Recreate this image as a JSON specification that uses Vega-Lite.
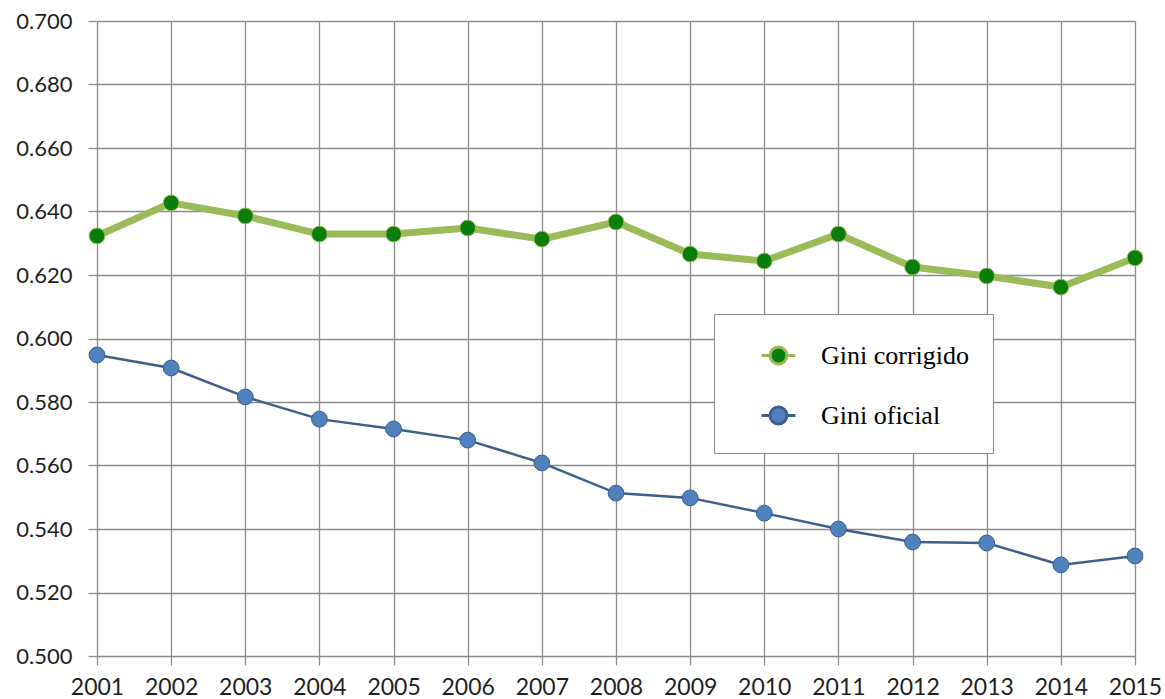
{
  "$schema": "https://vega.github.io/schema/vega-lite/v6.json",
  "width": 1038,
  "height": 635,
  "autosize": {"type": "none"},
  "padding": {"left": 97, "top": 21, "right": 30, "bottom": 43},
  "background": "white",
  "config": {
    "view": {"stroke": null},
    "axis": {
      "gridColor": "#8c8c8c", "gridOpacity": 1, "gridWidth": 1.3,
      "tickColor": "#8c8c8c", "tickWidth": 1.3, "tickSize": 9,
      "domain": false,
      "labelFont": "Lato", "labelColor": "#1f1f1f",
      "title": null
    },
    "legend": {
      "labelFont": "Liberation Serif", "labelFontSize": 26, "labelColor": "#000000"
    }
  },
  "data": {
    "values": [
      {"year": 2001, "series": "Gini corrigido", "v": 0.6323},
      {"year": 2002, "series": "Gini corrigido", "v": 0.6427},
      {"year": 2003, "series": "Gini corrigido", "v": 0.6386},
      {"year": 2004, "series": "Gini corrigido", "v": 0.6329},
      {"year": 2005, "series": "Gini corrigido", "v": 0.6329},
      {"year": 2006, "series": "Gini corrigido", "v": 0.6348},
      {"year": 2007, "series": "Gini corrigido", "v": 0.6313},
      {"year": 2008, "series": "Gini corrigido", "v": 0.6367},
      {"year": 2009, "series": "Gini corrigido", "v": 0.6266},
      {"year": 2010, "series": "Gini corrigido", "v": 0.6244},
      {"year": 2011, "series": "Gini corrigido", "v": 0.6329},
      {"year": 2012, "series": "Gini corrigido", "v": 0.6225},
      {"year": 2013, "series": "Gini corrigido", "v": 0.6197},
      {"year": 2014, "series": "Gini corrigido", "v": 0.6162},
      {"year": 2015, "series": "Gini corrigido", "v": 0.6254},
      {"year": 2001, "series": "Gini oficial", "v": 0.5948},
      {"year": 2002, "series": "Gini oficial", "v": 0.5907},
      {"year": 2003, "series": "Gini oficial", "v": 0.5816},
      {"year": 2004, "series": "Gini oficial", "v": 0.5746},
      {"year": 2005, "series": "Gini oficial", "v": 0.5715},
      {"year": 2006, "series": "Gini oficial", "v": 0.5680},
      {"year": 2007, "series": "Gini oficial", "v": 0.5608},
      {"year": 2008, "series": "Gini oficial", "v": 0.5513},
      {"year": 2009, "series": "Gini oficial", "v": 0.5498},
      {"year": 2010, "series": "Gini oficial", "v": 0.5450},
      {"year": 2011, "series": "Gini oficial", "v": 0.5400},
      {"year": 2012, "series": "Gini oficial", "v": 0.5359},
      {"year": 2013, "series": "Gini oficial", "v": 0.5356},
      {"year": 2014, "series": "Gini oficial", "v": 0.5287},
      {"year": 2015, "series": "Gini oficial", "v": 0.5315}
    ]
  },
  "encoding": {
    "x": {
      "field": "year", "type": "quantitative",
      "scale": {"domain": [2001, 2015], "nice": false, "zero": false},
      "axis": {
        "values": [2001,2002,2003,2004,2005,2006,2007,2008,2009,2010,2011,2012,2013,2014,2015],
        "format": "d", "labelFontSize": 23, "labelPadding": 11, "labelFlush": false, "labelOverlap": false
      }
    },
    "y": {
      "field": "v", "type": "quantitative",
      "scale": {"domain": [0.5, 0.7], "nice": false, "zero": false},
      "axis": {
        "values": [0.5,0.52,0.54,0.56,0.58,0.6,0.62,0.64,0.66,0.68,0.7],
        "format": ".3f", "labelFontSize": 22, "labelPadding": 16, "labelFlush": false
      }
    },
    "stroke": {
      "field": "series", "type": "nominal",
      "scale": {"domain": ["Gini corrigido", "Gini oficial"], "range": ["#9BBB59", "#3E5E8E"]},
      "legend": {
        "title": null, "orient": "none", "legendX": 617, "legendY": 293,
        "padding": 23, "strokeColor": "#8c8c8c", "fillColor": "white",
        "symbolType": "M-1,0L-0.5,0M0.5,0L1,0M0.5,0A0.5,0.5,0,1,1,-0.5,0A0.5,0.5,0,1,1,0.5,0Z",
        "symbolSize": 1156, "symbolStrokeWidth": 3, "symbolOffset": 23,
        "labelOffset": 24, "rowPadding": 27
      }
    }
  },
  "layer": [
    {
      "transform": [{"filter": "datum.series == 'Gini corrigido'"}],
      "mark": {"type": "line", "strokeWidth": 7}
    },
    {
      "transform": [{"filter": "datum.series == 'Gini oficial'"}],
      "mark": {"type": "line", "strokeWidth": 2.5}
    },
    {
      "mark": {"type": "circle", "size": 250, "opacity": 1, "strokeWidth": 1},
      "encoding": {
        "fill": {
          "field": "series", "type": "nominal",
          "scale": {"domain": ["Gini corrigido", "Gini oficial"], "range": ["#0A7D0A", "#4F81BD"]},
          "legend": {
            "title": null, "orient": "none", "legendX": 617, "legendY": 293,
            "padding": 23, "strokeColor": "#8c8c8c", "fillColor": "white",
            "symbolType": "M-1,0L-0.5,0M0.5,0L1,0M0.5,0A0.5,0.5,0,1,1,-0.5,0A0.5,0.5,0,1,1,0.5,0Z",
            "symbolSize": 1156, "symbolStrokeWidth": 3, "symbolOffset": 23,
            "labelOffset": 24, "rowPadding": 27
          }
        }
      }
    }
  ]
}
